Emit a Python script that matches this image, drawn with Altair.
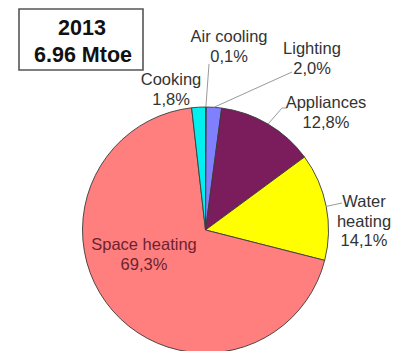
import math
import altair as alt
import pandas as pd

# Final energy consumption of households by end use, 2013
categories = ["Air cooling", "Lighting", "Appliances", "Water heating", "Space heating", "Cooking"]
shares = [0.1, 2.0, 12.8, 14.1, 69.3, 1.8]
share_labels = ["0,1%", "2,0%", "12,8%", "14,1%", "69,3%", "1,8%"]
name_lines = [["Air cooling"], ["Lighting"], ["Appliances"], ["Water", "heating"], ["Space heating"], ["Cooking"]]
colors = ["#1c2f8c", "#8080ff", "#7b1c5c", "#ffff00", "#ff7f7f", "#00f0f0"]
title_lines = ["2013", "6.96 Mtoe"]

# Pie geometry (pixels)
W, H = 404, 351
CX, CY, R = 205.5, 230, 123

# Label anchors (centre of first text line) and leader-line end points
label_pos = {
    "Air cooling": (229, 37),
    "Lighting": (312, 49),
    "Appliances": (326, 103),
    "Water heating": (364, 202),
    "Space heating": (144, 245),
    "Cooking": (171, 80),
}
leader_end = {
    "Air cooling": (209, 64),
    "Lighting": (292, 72),
    "Appliances": (282, 108),
    "Water heating": (342, 203),
}
LINE_H = 19.5

pie_df = pd.DataFrame({"category": categories, "share": shares, "order": range(len(categories))})

# Text rows, one per line of each label
rows = []
for cat, names, pct in zip(categories, name_lines, share_labels):
    x0, y0 = label_pos[cat]
    col = "#6e2230" if cat == "Space heating" else "#333333"
    for i, line in enumerate(names + [pct]):
        rows.append({"text": line, "x": x0, "y": y0 + i * LINE_H, "color": col})
label_df = pd.DataFrame(rows)

# Leader lines from the middle of each small slice's rim to its label
total = sum(shares)
cum = 0.0
leaders = []
for cat, s in zip(categories, shares):
    mid = (cum + s / 2) / total * 2 * math.pi
    cum += s
    if cat in leader_end:
        ex, ey = leader_end[cat]
        leaders.append({"x": CX + R * math.sin(mid), "y": CY - R * math.cos(mid), "x2": ex, "y2": ey})
# short horizontal tail under the start of the "Appliances" label
ax, ay = leader_end["Appliances"]
leaders.append({"x": ax, "y": ay, "x2": ax + 5, "y2": ay})
leader_df = pd.DataFrame(leaders)

pie = alt.Chart(pie_df).mark_arc(outerRadius=R, stroke="#3a3a3a", strokeWidth=0.9).encode(
    theta=alt.Theta("share:Q", stack=True),
    order=alt.Order("order:Q"),
    color=alt.Color("category:N", scale=alt.Scale(domain=categories, range=colors), legend=None),
    x=alt.value(CX),
    y=alt.value(CY),
)

lines = alt.Chart(leader_df).mark_rule(color="#9a9a9a", strokeWidth=1).encode(
    x=alt.X("x:Q", scale=None),
    y=alt.Y("y:Q", scale=None),
    x2="x2:Q",
    y2="y2:Q",
)

labels = alt.Chart(label_df).mark_text(
    font="Liberation Sans", fontSize=16.5, align="center", baseline="middle"
).encode(
    x=alt.X("x:Q", scale=None),
    y=alt.Y("y:Q", scale=None),
    text="text:N",
    color=alt.Color("color:N", scale=None),
)

box_df = pd.DataFrame({"x": [19], "y": [9], "x2": [143], "y2": [70]})
box = alt.Chart(box_df).mark_rect(fill="white", stroke="#555555", strokeWidth=1.6).encode(
    x=alt.X("x:Q", scale=None),
    y=alt.Y("y:Q", scale=None),
    x2="x2:Q",
    y2="y2:Q",
)

title_df = pd.DataFrame({"text": title_lines, "x": [82, 83], "y": [29, 56]})
title = alt.Chart(title_df).mark_text(
    font="Liberation Sans", fontSize=21.5, fontWeight="bold", color="#111111",
    align="center", baseline="middle"
).encode(
    x=alt.X("x:Q", scale=None),
    y=alt.Y("y:Q", scale=None),
    text="text:N",
)

chart = alt.layer(pie, lines, labels, box, title).properties(
    width=W, height=H, autosize="none", padding=0, background="white"
).configure_view(stroke=None)

chart.save("out.html", embed_options={"renderer": "svg", "actions": False})
